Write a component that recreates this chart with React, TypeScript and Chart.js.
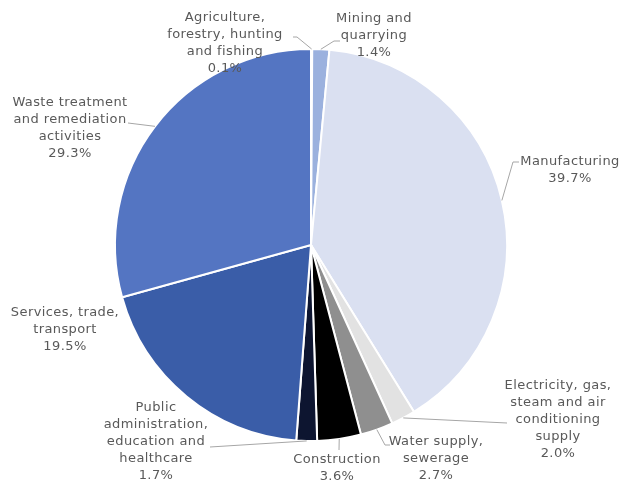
import React, { useEffect, useRef } from "react";
import { Chart, registerables } from "chart.js";

Chart.register(...registerables);

const categories: string[][] = [
  ["Agriculture,", "forestry, hunting", "and fishing"],
  ["Mining and", "quarrying"],
  ["Manufacturing"],
  ["Electricity, gas,", "steam and air", "conditioning", "supply"],
  ["Water supply,", "sewerage"],
  ["Construction"],
  ["Public", "administration,", "education and", "healthcare"],
  ["Services, trade,", "transport"],
  ["Waste treatment", "and remediation", "activities"],
];
const shares: number[] = [0.1, 1.4, 39.7, 2.0, 2.7, 3.6, 1.7, 19.5, 29.3];
const percentLabels: string[] = ["0.1%", "1.4%", "39.7%", "2.0%", "2.7%", "3.6%", "1.7%", "19.5%", "29.3%"];

const COLORS = ["#c9d3ea", "#9bb1de", "#dae0f1", "#e2e2e2", "#8f8f8f", "#000000", "#0d1530", "#3a5da8", "#5475c2"];

// label layout relative to pie centre: text centre x, first line y, leader path (from arc edge)
const LABEL_LAYOUT: { tx: number; ty: number; path: [number, number][] }[] = [
  { tx: -86, ty: -227, path: [[-14, -208], [-18, -208]] },
  { tx: 63, ty: -226, path: [[23, -204], [29, -204]] },
  { tx: 259, ty: -83, path: [[202, -83], [208, -83]] },
  { tx: 247, ty: 141, path: [[196, 178]] },
  { tx: 125, ty: 197, path: [[74, 200], [79, 200]] },
  { tx: 26, ty: 215, path: [[28, 205]] },
  { tx: -155, ty: 163, path: [[-101, 202]] },
  { tx: -246, ty: 68, path: [] },
  { tx: -241, ty: -142, path: [[-183, -122]] },
];

const FONT = "13px 'DejaVu Sans'";
const LINE_H = 17;

const labelPlugin = {
  id: "pieLabels",
  afterDraw(chart: any) {
    const ctx = chart.ctx;
    const meta = chart.getDatasetMeta(0);
    ctx.save();
    meta.data.forEach((arc: any, i: number) => {
      const cx = arc.x;
      const cy = arc.y;
      const mid = (arc.startAngle + arc.endAngle) / 2;
      const ex = cx + Math.cos(mid) * arc.outerRadius;
      const ey = cy + Math.sin(mid) * arc.outerRadius;
      const lay = LABEL_LAYOUT[i];
      if (lay.path.length) {
        ctx.strokeStyle = "#a6a6a6";
        ctx.lineWidth = 1;
        ctx.beginPath();
        ctx.moveTo(ex, ey);
        lay.path.forEach(([px, py]) => ctx.lineTo(cx + px, cy + py));
        ctx.stroke();
      }
      const lines = [...categories[i], percentLabels[i]];
      ctx.fillStyle = "#595959";
      ctx.font = FONT;
      try {
        (ctx as any).letterSpacing = "0.4px";
      } catch (e) {}
      ctx.textAlign = "center";
      ctx.textBaseline = "middle";
      lines.forEach((t, k) => {
        ctx.fillText(t, cx + lay.tx, cy + lay.ty + k * LINE_H);
      });
    });
    ctx.restore();
  },
};

export default function App() {
  const ref = useRef<HTMLCanvasElement>(null);
  useEffect(() => {
    if (!ref.current) return;
    const chart = new Chart(ref.current, {
      type: "pie",
      data: {
        labels: categories.map((c) => c.join(" ")),
        datasets: [
          {
            data: shares,
            backgroundColor: COLORS,
            borderColor: "#ffffff",
            borderWidth: 2,
          },
        ],
      },
      options: {
        responsive: false,
        animation: false,
        layout: { padding: { left: 114, right: 115, top: 48, bottom: 40 } },
        plugins: {
          legend: { display: false },
          tooltip: { enabled: false },
        },
      },
      plugins: [labelPlugin],
    });
    return () => chart.destroy();
  }, []);
  return (
    <div style={{ position: "fixed", left: 0, top: 0, width: 623, height: 482, background: "#fff" }}>
      <canvas ref={ref} width={623} height={482} style={{ width: 623, height: 482 }} />
    </div>
  );
}
